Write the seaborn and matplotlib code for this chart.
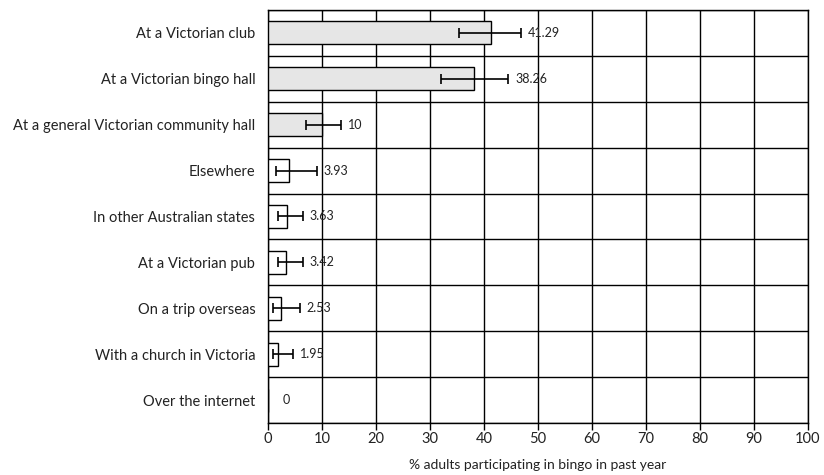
import numpy as np
import pandas as pd
import matplotlib
matplotlib.use("Agg")
import matplotlib.pyplot as plt
from matplotlib.ticker import MultipleLocator, FixedLocator
import seaborn as sns

# Where adults took part in bingo during the past year
venues = [
    "At a Victorian club",
    "At a Victorian bingo hall",
    "At a general Victorian community hall",
    "Elsewhere",
    "In other Australian states",
    "At a Victorian pub",
    "On a trip overseas",
    "With a church in Victoria",
    "Over the internet",
]
share = [41.29, 38.26, 10.0, 3.93, 3.63, 3.42, 2.53, 1.95, 0.0]
ci_lower = [35.4, 32.0, 7.0, 1.5, 1.9, 1.8, 1.0, 0.9, 0.0]
ci_upper = [46.8, 44.5, 13.6, 9.1, 6.5, 6.5, 5.9, 4.6, 0.0]
value_text = ["41.29", "38.26", "10", "3.93", "3.63", "3.42", "2.53", "1.95", "0"]
x_ticks = [0, 10, 20, 30, 40, 50, 60, 70, 80, 90, 100]

df = pd.DataFrame({"venue": venues, "share": share})

sns.set_style("white")
plt.rcParams["font.family"] = ["Lato", "DejaVu Sans"]

fig = plt.figure(figsize=(8.24, 4.75), dpi=100)
ax = fig.add_axes([0.325, 0.1095, 0.6555, 0.8695])

# wide bars carry a pale grey fill, the narrow ones stay white
fills = ["#e6e6e6" if v >= 10 else "white" for v in share]
sns.barplot(data=df, x="share", y="venue", hue="venue", palette=fills,
            legend=False, orient="h", errorbar=None, edgecolor="black",
            linewidth=1.0, width=0.5, saturation=1, ax=ax)
for p in ax.patches:
    p.set_zorder(3)

pos = np.arange(len(venues))
lo = np.array(share) - np.array(ci_lower)
hi = np.array(ci_upper) - np.array(share)
has_ci = (lo + hi) > 0
ax.errorbar(np.array(share)[has_ci], pos[has_ci],
            xerr=[lo[has_ci], hi[has_ci]], fmt="none", ecolor="black",
            elinewidth=1.2, capsize=3.5, capthick=1.2, zorder=4)

for i, (u, t) in enumerate(zip(ci_upper, value_text)):
    xoff = 5 if u > 0 else 11
    ax.annotate(t, xy=(u, i), xytext=(xoff, 0), textcoords="offset points",
                ha="left", va="center", fontsize=9, color="#222222", zorder=5)

ax.set_xlim(0, 100)
ax.set_ylim(len(venues) - 0.5, -0.5)
ax.xaxis.set_major_locator(FixedLocator(x_ticks))
ax.xaxis.set_minor_locator(MultipleLocator(2))
ax.yaxis.set_minor_locator(FixedLocator(np.arange(-0.5, len(venues), 1.0)))

ax.set_axisbelow(True)
ax.grid(axis="x", which="major", color="black", linewidth=1.0)
ax.grid(axis="y", which="minor", color="black", linewidth=1.0)
ax.grid(axis="y", which="major", visible=False)

for s in ax.spines.values():
    s.set_color("black")
    s.set_linewidth(1.0)

ax.tick_params(axis="x", which="major", direction="out", length=5, width=1,
               color="black", labelsize=10.5, pad=1.5, labelcolor="#222222")
ax.tick_params(axis="x", which="minor", direction="out", length=3, width=0.8,
               color="black")
ax.tick_params(axis="y", which="major", length=0, pad=9, labelsize=10.5,
               labelcolor="#222222")
ax.tick_params(axis="y", which="minor", direction="out", length=5, width=1,
               color="black")
ax.tick_params(left=True, bottom=True)

ax.set_ylabel("")
ax.set_xlabel("% adults participating in bingo in past year", fontsize=10,
              color="#222222", labelpad=9)

fig.savefig("out.png", dpi=100)
